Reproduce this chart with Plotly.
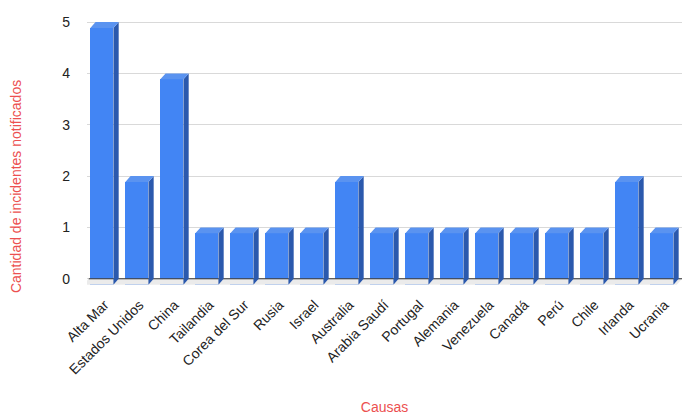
import plotly.graph_objects as go

# Incidentes notificados por ubicación
categorias = ["Alta Mar", "Estados Unidos", "China", "Tailandia", "Corea del Sur",
              "Rusia", "Israel", "Australia", "Arabia Saudí", "Portugal", "Alemania",
              "Venezuela", "Canadá", "Perú", "Chile", "Irlanda", "Ucrania"]
incidentes = [5, 2, 4, 1, 1, 1, 1, 2, 1, 1, 1, 1, 1, 1, 1, 2, 1]

# 3D bar geometry (data units)
ancho = 0.66      # front face width
prof_x = 0.15     # depth offset along x
prof_y = 0.115    # depth offset along y

frente = "#4285f4"
lateral = "#2b59ad"
superior = "#5a93f0"
rojo = "#ec5050"

n = len(categorias)
xs = list(range(n))
izq = [i - (ancho + prof_x) / 2 for i in xs]

fig = go.Figure()

# floor under the baseline
fig.add_trace(go.Scatter(
    x=[-0.5 + prof_x * 0.3, n - 0.5, n - 0.5 - prof_x, -0.5 + prof_x * 0.3 - prof_x, -0.5 + prof_x * 0.3],
    y=[0, 0, -prof_y, -prof_y, 0],
    fill="toself", fillcolor="#ebebeb", line=dict(width=0), mode="lines",
    hoverinfo="skip", showlegend=False))

# baseline
fig.add_trace(go.Scatter(
    x=[-0.45, n - 0.5], y=[0, 0], mode="lines",
    line=dict(color="#333333", width=1), hoverinfo="skip", showlegend=False))

# front faces
fig.add_trace(go.Bar(
    x=[l + ancho / 2 for l in izq], y=incidentes, base=[-prof_y] * n,
    width=ancho, marker=dict(color=frente, line=dict(width=0)),
    showlegend=False, hovertext=categorias))

# side and top faces
sx, sy, tx, ty = [], [], [], []
for l, v in zip(izq, incidentes):
    r = l + ancho
    sx += [r, r, r + prof_x, r + prof_x, r, None]
    sy += [-prof_y, v - prof_y, v, 0, -prof_y, None]
    tx += [l, r, r + prof_x, l + prof_x, l, None]
    ty += [v - prof_y, v - prof_y, v, v, v - prof_y, None]

fig.add_trace(go.Scatter(x=sx, y=sy, fill="toself", fillcolor=lateral,
                         line=dict(width=0), mode="lines", hoverinfo="skip", showlegend=False))
fig.add_trace(go.Scatter(x=tx, y=ty, fill="toself", fillcolor=superior,
                         line=dict(width=0), mode="lines", hoverinfo="skip", showlegend=False))

fig.update_layout(
    width=686, height=415,
    margin=dict(l=87, r=4, t=20, b=128),
    paper_bgcolor="white", plot_bgcolor="white",
    font=dict(family="Arial, Liberation Sans, sans-serif", color="#222222", size=14),
    bargap=0,
    xaxis=dict(
        range=[-0.5, n - 0.5], tickmode="array", tickvals=xs, ticktext=categorias,
        tickangle=-45, showgrid=False, zeroline=False, showline=False, ticks="",
        tickfont=dict(size=14, color="#222222"), ticklabelstandoff=6, automargin=False,
        title=dict(text="Causas", font=dict(color=rojo, size=14), standoff=26),
    ),
    yaxis=dict(
        range=[-0.16, 5.04], tickvals=[0, 1, 2, 3, 4, 5], showgrid=True,
        gridcolor="#d9d9d9", gridwidth=1, zeroline=False, showline=False, ticks="",
        tickfont=dict(size=14, color="#222222"), ticklabelstandoff=16, automargin=False,
    ),
    annotations=[dict(
        text="Cantidad de incidentes notificados", textangle=-90,
        xref="paper", yref="paper", x=-0.119, y=0.375,
        xanchor="center", yanchor="middle", showarrow=False,
        font=dict(color=rojo, size=14),
    )],
)

fig.write_html("out.html")
